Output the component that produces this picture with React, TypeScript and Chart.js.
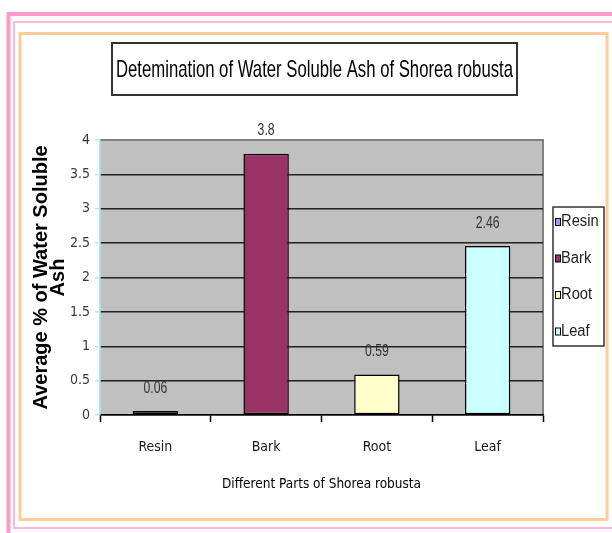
import React, { useEffect, useRef } from "react";
import { Chart, registerables } from "chart.js";

Chart.register(...registerables);

const categories = ["Resin", "Bark", "Root", "Leaf"];
const values = [0.06, 3.8, 0.59, 2.46];
const valueLabels = ["0.06", "3.8", "0.59", "2.46"];
const barColors = ["#9999FF", "#993366", "#FFFFCC", "#CCFFFF"];
const yTickLabels = ["0", "0.5", "1", "1.5", "2", "2.5", "3", "3.5", "4"];
const titleText = "Detemination of Water Soluble Ash of Shorea robusta";
const yTitle = ["Average % of Water Soluble", "Ash"];
const xTitle = "Different Parts of Shorea robusta";

const NARROW = "'DejaVu Sans Condensed', 'Liberation Sans Narrow', sans-serif";
const WIDE = "'Liberation Sans', Arial, sans-serif";

function squeezedText(ctx: any, text: string, x: number, y: number, sx: number) {
  ctx.save();
  ctx.translate(x, y);
  ctx.scale(sx, 1);
  ctx.fillText(text, 0, 0);
  ctx.restore();
}

const decorPlugin = {
  id: "decor",
  beforeDraw(chart: any) {
    const { ctx, chartArea } = chart;
    ctx.save();
    ctx.strokeStyle = "#FF99CC";
    ctx.lineWidth = 4;
    ctx.strokeRect(8.5, 14, 640, 522);
    ctx.strokeStyle = "#FFB8DC";
    ctx.lineWidth = 2;
    ctx.strokeRect(14, 22, 640, 506);
    ctx.strokeStyle = "#FFCC99";
    ctx.lineWidth = 3;
    ctx.strokeRect(20, 33.5, 587, 486);
    ctx.fillStyle = "#C0C0C0";
    ctx.fillRect(chartArea.left, chartArea.top, chartArea.right - chartArea.left, chartArea.bottom - chartArea.top);
    ctx.strokeStyle = "#808080";
    ctx.lineWidth = 2;
    ctx.beginPath();
    ctx.moveTo(chartArea.left, chartArea.top);
    ctx.lineTo(chartArea.right, chartArea.top);
    ctx.lineTo(chartArea.right, chartArea.bottom);
    ctx.stroke();
    ctx.restore();
  },
  afterDraw(chart: any) {
    const { ctx } = chart;
    ctx.save();
    ctx.fillStyle = "#FFFFFF";
    ctx.fillRect(112, 43, 405, 52);
    ctx.strokeStyle = "#333333";
    ctx.lineWidth = 2;
    ctx.strokeRect(112, 43, 405, 52);
    ctx.fillStyle = "#000000";
    ctx.font = `24px ${WIDE}`;
    ctx.textAlign = "center";
    ctx.textBaseline = "middle";
    const tw = ctx.measureText(titleText).width;
    squeezedText(ctx, titleText, 314.5, 70, 397 / tw);

    const meta = chart.getDatasetMeta(0);
    ctx.font = `17px ${WIDE}`;
    ctx.fillStyle = "#333333";
    meta.data.forEach((bar: any, i: number) => {
      squeezedText(ctx, valueLabels[i], bar.x, bar.y - 23, 0.72);
    });

    ctx.fillStyle = "#FFFFFF";
    ctx.fillRect(553, 207, 51, 139);
    ctx.strokeStyle = "#333333";
    ctx.lineWidth = 1.5;
    ctx.strokeRect(553, 207, 51, 139);
    ctx.font = `16px ${WIDE}`;
    ctx.textAlign = "left";
    ctx.textBaseline = "middle";
    categories.forEach((c, i) => {
      const y = 222 + i * 36.5;
      ctx.fillStyle = barColors[i];
      ctx.fillRect(555, y - 3.5, 5, 7);
      ctx.strokeStyle = "#000000";
      ctx.lineWidth = 1;
      ctx.strokeRect(555.5, y - 3.5, 5, 7);
      ctx.fillStyle = "#222222";
      squeezedText(ctx, c, 561, y, 0.92);
    });
    ctx.restore();
  },
};

export default function App() {
  const ref = useRef<HTMLCanvasElement>(null);
  useEffect(() => {
    if (!ref.current) return;
    const chart = new Chart(ref.current, {
      type: "bar",
      data: {
        labels: categories,
        datasets: [
          {
            data: values,
            backgroundColor: barColors,
            borderColor: "#000000",
            borderWidth: 1.5,
            borderSkipped: false,
            categoryPercentage: 1,
            barPercentage: 0.41,
          },
        ],
      },
      options: {
        animation: false,
        responsive: true,
        maintainAspectRatio: false,
        layout: { padding: { left: 0, top: 140, right: 69, bottom: 40 } },
        plugins: { legend: { display: false }, title: { display: false }, tooltip: { enabled: false } },
        scales: {
          x: {
            afterFit: (s: any) => {
              s.height = 78;
            },
            grid: {
              offset: true,
              drawOnChartArea: false,
              drawTicks: true,
              tickLength: 7,
              tickColor: "#000000",
              tickWidth: 1.5,
            },
            border: { color: "#000000", width: 1.5 },
            ticks: { padding: 17, color: "#1a1a1a", font: { family: NARROW, size: 14 } },
            title: {
              display: true,
              text: xTitle,
              color: "#000000",
              font: { family: NARROW, size: 13.5 },
              padding: { top: 0, bottom: 0 },
            },
          },
          y: {
            min: 0,
            max: 4,
            afterFit: (s: any) => {
              s.width = 100;
            },
            ticks: {
              stepSize: 0.5,
              padding: 5,
              color: "#3a3a3a",
              font: { family: NARROW, size: 14 },
              callback: (_v: any, i: number) => yTickLabels[i],
            },
            grid: {
              color: (c: any) => (c.tick && c.tick.value === 4 ? "rgba(0,0,0,0)" : "#222222"),
              lineWidth: 1.5,
              tickLength: 5,
              tickColor: "#A8EEEE",
              drawTicks: true,
            },
            border: { color: "#A8EEEE", width: 1.5 },
            title: {
              display: true,
              text: yTitle,
              color: "#000000",
              font: { family: WIDE, size: 20, weight: "bold", lineHeight: "17px" },
              padding: { top: 33, bottom: 0 },
            },
          },
        },
      },
      plugins: [decorPlugin],
    });
    return () => chart.destroy();
  }, []);
  return (
    <div style={{ position: "absolute", left: 0, top: 0, width: 612, height: 533 }}>
      <canvas ref={ref} />
    </div>
  );
}
